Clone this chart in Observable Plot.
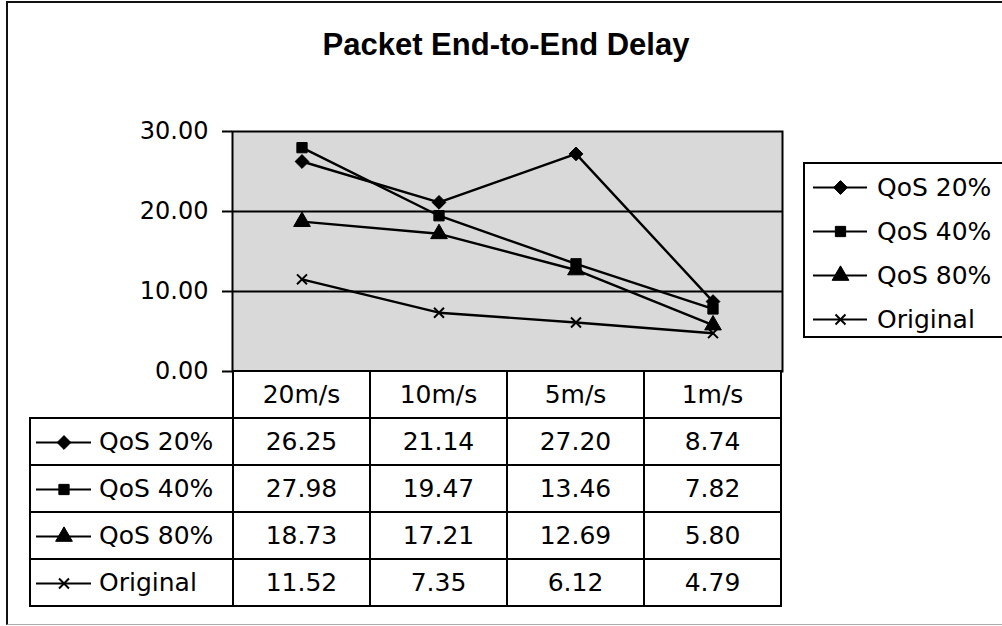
<!DOCTYPE html>
<html><head><meta charset="utf-8">
<script src="https://cdn.jsdelivr.net/npm/d3@7"></script>
<script src="https://cdn.jsdelivr.net/npm/@observablehq/plot@0.6"></script>
<style>
body{margin:0;background:#fff;}
#wrap{position:relative;width:1002px;height:626px;overflow:hidden;font-family:"DejaVu Sans",sans-serif;color:#000;}
#frame{position:absolute;left:6px;top:1px;width:1010px;height:621px;border-left:2px solid #111;border-top:2px solid #111;border-bottom:1px solid #aaa;}
#title{position:absolute;left:0;width:1012px;top:27px;line-height:31px;text-align:center;font:bold 31px "Liberation Sans",Arial,sans-serif;}
#chart{position:absolute;left:0;top:0;}
#legend{position:absolute;left:803px;top:162px;width:230px;height:172px;border:2px solid #000;}
.lrow{position:absolute;left:8px;height:44px;display:flex;align-items:center;font-size:25px;white-space:nowrap;}
.lrow svg{display:block;}
.cell{position:absolute;box-sizing:border-box;border:2px solid #000;display:flex;align-items:center;justify-content:center;font-size:25px;white-space:nowrap;background:#fff;}
.cell.lab{justify-content:flex-start;}
</style>
</head><body>
<div id="wrap">
  <div id="frame"></div>
  <div id="title">Packet End-to-End Delay</div>
  <div id="chart"></div>
  <div id="legend"></div>
  <div id="table"></div>
</div>
<script>
const categories = ["20m/s", "10m/s", "5m/s", "1m/s"];
const seriesNames = ["QoS 20%", "QoS 40%", "QoS 80%", "Original"];
const qos20 = [26.25, 21.14, 27.20, 8.74];
const qos40 = [27.98, 19.47, 13.46, 7.82];
const qos80 = [18.73, 17.21, 12.69, 5.80];
const original = [11.52, 7.35, 6.12, 4.79];
const yTicks = [0, 10, 20, 30];
const symbols = ["diamond2", "square", "triangle", "times"];
const symbolR = [6.2, 5.8, 6.2, 4.6];

const seriesValues = [qos20, qos40, qos80, original];
const data = seriesNames.flatMap((s, i) => categories.map((c, j) => ({series: s, cat: c, value: seriesValues[i][j]})));

const fontStyle = {fontFamily: "'DejaVu Sans', sans-serif", fontSize: "24px", color: "#000", background: "transparent", overflow: "visible"};

function dotMarks(rows, x, y) {
  return seriesNames.map((s, i) => Plot.dot(rows.filter(d => d.series === s), {
    x, y, symbol: "series",
    fill: s === "Original" ? "none" : "#000",
    stroke: "#000",
    strokeWidth: s === "Original" ? 2 : 1,
    r: symbolR[i]
  }));
}

const chart = Plot.plot({
  width: 1002,
  height: 380,
  marginLeft: 232,
  marginRight: 220,
  marginTop: 131,
  marginBottom: 9,
  style: fontStyle,
  x: {domain: categories, type: "band", padding: 0, axis: null},
  y: {domain: [0, 30], axis: null},
  symbol: {domain: seriesNames, range: symbols},
  marks: [
    Plot.frame({fill: "#d9d9d9", stroke: null}),
    Plot.ruleY([10, 20], {stroke: "#000", strokeWidth: 2}),
    Plot.frame({stroke: "#000", strokeWidth: 2}),
    Plot.axisY({ticks: yTicks, tickFormat: d3.format(".2f"), tickSize: 10, tickPadding: 14, stroke: "#000", strokeWidth: 2, fill: "#000", fontSize: 24, label: null}),
    Plot.line(data, {x: "cat", y: "value", z: "series", stroke: "#000", strokeWidth: 2.4}),
    ...dotMarks(data, "cat", "value")
  ]
});
document.getElementById("chart").appendChild(chart);

function swatch(name, w) {
  const rows = [{series: name}];
  return Plot.plot({
    width: w, height: 20, margin: 0,
    style: {background: "transparent", overflow: "visible"},
    x: {domain: [0, 1], axis: null},
    y: {domain: [0, 1], axis: null},
    symbol: {domain: seriesNames, range: symbols},
    marks: [
      Plot.ruleY([0.5], {stroke: "#000", strokeWidth: 2}),
      ...dotMarks(rows, () => 0.5, () => 0.5)
    ]
  });
}

// legend
const legend = document.getElementById("legend");
seriesNames.forEach((s, i) => {
  const row = document.createElement("div");
  row.className = "lrow";
  row.style.top = (1 + i * 44) + "px";
  const sw = swatch(s, 54);
  sw.style.marginRight = "10px";
  row.appendChild(sw);
  row.appendChild(document.createTextNode(s));
  legend.appendChild(row);
});

// data table aligned to the chart's x scale
const xs = chart.scale("x");
const table = document.getElementById("table");
const top0 = chart.scale("y").apply(0);
const rowH = 47;
const labelLeft = 30;
function cell(left, top, w, h, cls) {
  const d = document.createElement("div");
  d.className = "cell" + (cls ? " " + cls : "");
  d.style.left = (left - 1) + "px";
  d.style.top = (top - 1) + "px";
  d.style.width = (w + 2) + "px";
  d.style.height = (h + 2) + "px";
  table.appendChild(d);
  return d;
}
categories.forEach(c => {
  cell(xs.apply(c), top0, xs.bandwidth, rowH).textContent = c;
});
seriesNames.forEach((s, i) => {
  const y = top0 + rowH * (i + 1);
  const lab = cell(labelLeft, y, xs.apply(categories[0]) - labelLeft, rowH, "lab");
  const sw = swatch(s, 55);
  sw.style.marginLeft = "5px";
  sw.style.marginRight = "8px";
  lab.appendChild(sw);
  lab.appendChild(document.createTextNode(s));
  categories.forEach((c, j) => {
    cell(xs.apply(c), y, xs.bandwidth, rowH).textContent = seriesValues[i][j].toFixed(2);
  });
});
</script>
</body></html>
